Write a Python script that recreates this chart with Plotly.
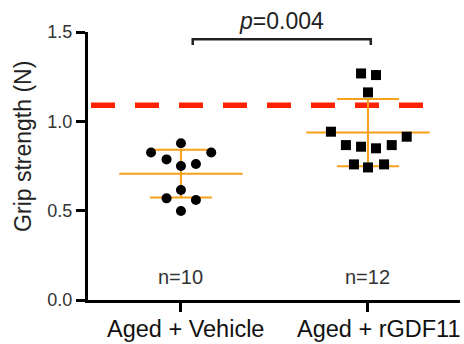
import numpy as np
import plotly.graph_objects as go

# ---- data ----
categories = ["Aged + Vehicle", "Aged + rGDF11"]
vehicle = [0.877, 0.826, 0.826, 0.787, 0.750, 0.761, 0.616, 0.569, 0.560, 0.498]
vehicle_jitter = [0.0, -0.16, 0.162, -0.077, 0.0, 0.08, 0.0, -0.077, 0.08, 0.0]
rgdf11 = [1.268, 1.259, 1.162, 0.942, 0.914, 0.867, 0.858, 0.849, 0.867, 0.759, 0.742, 0.759]
rgdf11_jitter = [-0.037, 0.043, 0.0, -0.198, 0.207, -0.118, -0.037, 0.043, 0.127, -0.075, 0.0, 0.086]
reference_level = 1.09
p_text = "<i>p</i>=0.004"
n_labels = ["n=10", "n=12"]
y_ticks = [0.0, 0.5, 1.0, 1.5]
y_ticktext = ["0.0", "0.5", "1.0", "1.5"]

FONT = "Liberation Sans, Arial, Helvetica, sans-serif"
ORANGE = "#F7A11A"
RED = "#FF2200"

groups = [(vehicle, vehicle_jitter, "circle"), (rgdf11, rgdf11_jitter, "square")]

fig = go.Figure()

# red dashed reference line
fig.add_trace(go.Scatter(
    x=[-0.481, 1.39], y=[reference_level, reference_level], mode="lines",
    line=dict(color=RED, width=5.5, dash="24px,20px"), hoverinfo="skip", showlegend=False))

MEAN_HW = 0.33
for i, (vals, jit, sym) in enumerate(groups):
    arr = np.array(vals)
    m = arr.mean()
    sd = arr.std(ddof=1)
    # mean line
    fig.add_trace(go.Scatter(
        x=[i - MEAN_HW, i + MEAN_HW], y=[m, m], mode="lines",
        line=dict(color=ORANGE, width=2), hoverinfo="skip", showlegend=False))
    # SD bar
    fig.add_trace(go.Scatter(
        x=[i], y=[m], mode="markers", marker=dict(size=0.1, color=ORANGE),
        error_y=dict(type="data", array=[sd], visible=True, color=ORANGE,
                     thickness=2, width=31),
        hoverinfo="skip", showlegend=False))
    # points
    fig.add_trace(go.Scatter(
        x=[i + j for j in jit], y=vals, mode="markers",
        marker=dict(symbol=sym, size=10, color="black"),
        showlegend=False))

# significance bracket
fig.add_trace(go.Scatter(
    x=[0.063, 0.063, 1.015, 1.015], y=[1.427, 1.459, 1.459, 1.427], mode="lines",
    line=dict(color="#222", width=2.5), hoverinfo="skip", showlegend=False))

annotations = [
    dict(x=0.54, y=1.5, xref="x", yref="y", text=p_text, showarrow=False,
         font=dict(family=FONT, size=23, color="#222"), yshift=11, yanchor="middle"),
    dict(x=0, y=0.5713, xref="paper", yref="paper", text="Grip strength (N)",
         textangle=-90, showarrow=False, xshift=-65, xanchor="center", yanchor="middle",
         font=dict(family=FONT, size=23, color="#222")),
]
for i, lab in enumerate(n_labels):
    annotations.append(dict(x=i, y=0.128, xref="x", yref="y", text=lab, showarrow=False,
                            font=dict(family=FONT, size=20, color="#333")))
cat_shift = [5, 11]
for i, c in enumerate(categories):
    annotations.append(dict(x=i, y=-0.108, xref="x", yref="paper", text=c, showarrow=False,
                            xshift=cat_shift[i], yanchor="middle",
                            font=dict(family=FONT, size=23.5, color="#111")))

fig.update_layout(
    width=464, height=344,
    margin=dict(l=88, r=4, t=32, b=44),
    paper_bgcolor="white", plot_bgcolor="white",
    font=dict(family=FONT, color="#222"),
    annotations=annotations,
    xaxis=dict(range=[-0.497, 1.492], tickvals=[0, 1], showticklabels=False,
               ticks="outside", ticklen=9, tickwidth=2.5, tickcolor="black",
               showline=True, linecolor="black", linewidth=3, showgrid=False,
               zeroline=False, fixedrange=True),
    yaxis=dict(range=[0, 1.5], tickvals=y_ticks, ticktext=y_ticktext,
               ticks="outside", ticklen=9, tickwidth=2.5, tickcolor="black",
               showline=True, linecolor="black", linewidth=3, showgrid=False,
               zeroline=False, tickfont=dict(family=FONT, size=18, color="#333"),
               fixedrange=True),
)

fig.write_html("out.html")
